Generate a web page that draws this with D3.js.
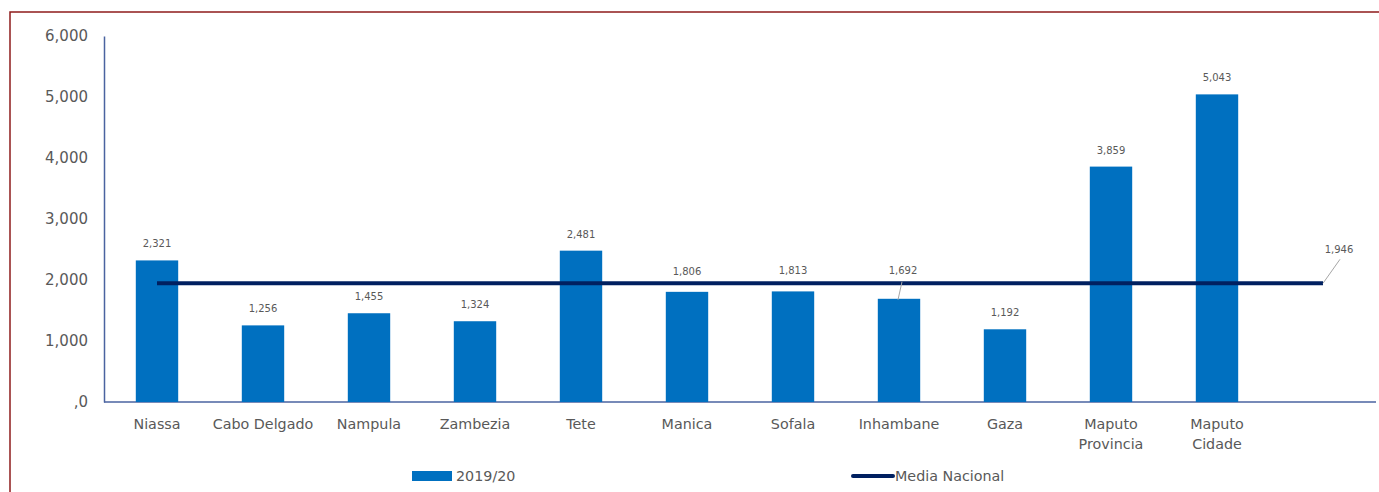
<!DOCTYPE html>
<html>
<head>
<meta charset="utf-8">
<script src="https://cdn.jsdelivr.net/npm/d3@7"></script>
<style>
  html, body { margin: 0; padding: 0; background: #fff; }
  svg { display: block; font-family: "DejaVu Sans", Verdana, sans-serif; }
</style>
</head>
<body>
<svg id="chart" width="1379" height="492"></svg>
<script>
// Provinces (the last slot is empty so the national-mean line runs past the bars)
const categories = ["Niassa", "Cabo Delgado", "Nampula", "Zambezia", "Tete", "Manica",
  "Sofala", "Inhambane", "Gaza", "Maputo Provincia", "Maputo Cidade", ""];
const values2019 = [2321, 1256, 1455, 1324, 2481, 1806, 1813, 1692, 1192, 3859, 5043, null];
const mediaNacional = [1946, 1946, 1946, 1946, 1946, 1946, 1946, 1946, 1946, 1946, 1946, 1946];
const yTicks = [0, 1000, 2000, 3000, 4000, 5000, 6000];
const seriesNames = ["2019/20", "Media Nacional"];

const svg = d3.select("#chart");
const textColor = "#595959";
const barColor = "#0070C0";
const lineColor = "#002060";
const axisColor = "#4A63A0";

// Outer frame
svg.append("rect")
  .attr("x", 10).attr("y", 12)
  .attr("width", 1400).attr("height", 520)
  .attr("fill", "none").attr("stroke", "#8E1B1B").attr("stroke-width", 1.5);

const x = d3.scaleBand()
  .domain(categories.map((c, i) => i))
  .range([104, 1376])
  .paddingInner(0.6)
  .paddingOuter(0.3);

const y = d3.scaleLinear().domain([0, 6000]).range([402, 36]);

const fmt = d3.format(",");
const tickFmt = v => v === 0 ? ",0" : fmt(v);

// Y axis
const yAxis = svg.append("g")
  .attr("transform", "translate(104,0)")
  .call(d3.axisLeft(y).tickValues(yTicks).tickFormat(tickFmt).tickSize(0).tickPadding(16));
yAxis.select(".domain").attr("stroke", axisColor).attr("stroke-width", 1.5);
yAxis.selectAll("text").attr("fill", textColor).attr("font-size", 15).attr("font-family", "DejaVu Sans");

// X axis line
svg.append("line")
  .attr("x1", 104).attr("x2", 1376)
  .attr("y1", y(0)).attr("y2", y(0))
  .attr("stroke", axisColor).attr("stroke-width", 1.5);

// Category labels (two-word names wrap onto two lines)
const wrapNames = { "Maputo Provincia": ["Maputo", "Provincia"], "Maputo Cidade": ["Maputo", "Cidade"] };
categories.forEach((c, i) => {
  if (!c) return;
  const lines = wrapNames[c] || [c];
  const t = svg.append("text")
    .attr("x", x(i) + x.bandwidth() / 2)
    .attr("y", 429)
    .attr("text-anchor", "middle")
    .attr("fill", textColor)
    .attr("font-size", 14.3);
  lines.forEach((l, k) => {
    t.append("tspan").attr("x", x(i) + x.bandwidth() / 2).attr("dy", k === 0 ? 0 : 20).text(l);
  });
});

// Bars
const barData = values2019.map((v, i) => ({ i, v })).filter(d => d.v != null);
svg.append("g").selectAll("rect").data(barData).join("rect")
  .attr("x", d => x(d.i))
  .attr("width", x.bandwidth())
  .attr("y", d => y(d.v))
  .attr("height", d => y(0) - y(d.v))
  .attr("fill", barColor);

// National mean line, from the first category centre to the last slot
const line = d3.line()
  .x((d, i) => x(i) + x.bandwidth() / 2)
  .y(d => y(d));
svg.append("path")
  .datum(mediaNacional)
  .attr("d", line)
  .attr("fill", "none")
  .attr("stroke", lineColor)
  .attr("stroke-width", 4);

// Bar value labels; a few are lifted clear of the mean line
const labelLift = { 5: 4, 6: 4 };
const valueFont = 10;
barData.forEach(d => {
  const cx = x(d.i) + x.bandwidth() / 2;
  if (d.i === 7) {
    // Label sits above the mean line with a leader back to the bar
    const top = y(d.v);
    svg.append("line")
      .attr("x1", cx - 1).attr("y1", top + 1)
      .attr("x2", cx + 3).attr("y2", top - 17)
      .attr("stroke", "#A6A6A6").attr("stroke-width", 1);
    svg.append("text")
      .attr("x", cx + 4).attr("y", top - 25)
      .attr("text-anchor", "middle").attr("fill", textColor)
      .attr("font-size", valueFont).text(fmt(d.v));
    return;
  }
  svg.append("text")
    .attr("x", cx)
    .attr("y", y(d.v) - 13 - (labelLift[d.i] || 0))
    .attr("text-anchor", "middle")
    .attr("fill", textColor)
    .attr("font-size", valueFont)
    .text(fmt(d.v));
});

// Mean value label with leader line at the end of the line
const lastI = mediaNacional.length - 1;
const ex = x(lastI) + x.bandwidth() / 2;
const ey = y(mediaNacional[lastI]);
svg.append("line")
  .attr("x1", ex).attr("y1", ey)
  .attr("x2", ex + 17).attr("y2", ey - 24)
  .attr("stroke", "#A6A6A6").attr("stroke-width", 1);
svg.append("text")
  .attr("x", ex + 16).attr("y", ey - 30)
  .attr("text-anchor", "middle").attr("fill", textColor)
  .attr("font-size", valueFont).text(fmt(mediaNacional[lastI]));

// Legend
const lg = svg.append("g");
lg.append("rect").attr("x", 412).attr("y", 471).attr("width", 40).attr("height", 10).attr("fill", barColor);
lg.append("text").attr("x", 456).attr("y", 481).attr("fill", textColor).attr("font-size", 14.3).text(seriesNames[0]);
lg.append("line").attr("x1", 853).attr("x2", 893).attr("y1", 476).attr("y2", 476)
  .attr("stroke", lineColor).attr("stroke-width", 4).attr("stroke-linecap", "round");
lg.append("text").attr("x", 895).attr("y", 481).attr("fill", textColor).attr("font-size", 14.3).text(seriesNames[1]);
</script>
</body>
</html>
